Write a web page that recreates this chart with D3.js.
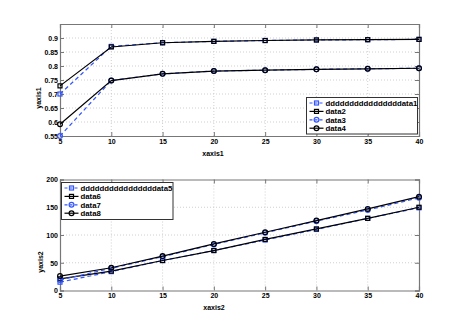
<!DOCTYPE html>
<html>
<head>
<meta charset="utf-8">
<script src="https://cdn.jsdelivr.net/npm/d3@7"></script>
<style>
  body { margin: 0; background: #fff; }
  svg text { font-family: "Liberation Sans", Arial, sans-serif; font-size: 7px; font-weight: bold; fill: #000; }
  svg .legenda text { font-size: 7.8px; }
</style>
</head>
<body>
<div id="chart"></div>
<script>
const xValues = [5, 10, 15, 20, 25, 30, 35, 40];

// painel de cima
const data1 = [0.70, 0.870, 0.883, 0.888, 0.891, 0.893, 0.894, 0.895];
const data2 = [0.729, 0.868, 0.883, 0.888, 0.891, 0.893, 0.894, 0.895];
const data3 = [0.55, 0.748, 0.772, 0.782, 0.785, 0.788, 0.790, 0.792];
const data4 = [0.592, 0.748, 0.772, 0.782, 0.785, 0.788, 0.790, 0.792];

// painel de baixo
const data5 = [15, 34, 54, 72, 91, 110, 130, 149];
const data6 = [21, 35, 54, 72, 92, 111, 130, 150];
const data7 = [19, 40, 61, 83, 104, 125, 145, 167];
const data8 = [26, 41, 62, 84, 105, 126, 147, 169];

const xTicks = [5, 10, 15, 20, 25, 30, 35, 40];
const yTicks1 = [0.55, 0.6, 0.65, 0.7, 0.75, 0.8, 0.85, 0.9];
const yTicks2 = [0, 50, 100, 150, 200];

const longName = "ddddddddddddddd";
const series1 = [
  { name: longName + "data1", values: data1, color: "#3355ff", dash: "4,3", marker: "square" },
  { name: "data2", values: data2, color: "#000", dash: null, marker: "square" },
  { name: "data3", values: data3, color: "#3355ff", dash: "4,3", marker: "circle" },
  { name: "data4", values: data4, color: "#000", dash: null, marker: "circle" },
];
const series2 = [
  { name: longName + "data5", values: data5, color: "#3355ff", dash: "4,3", marker: "square" },
  { name: "data6", values: data6, color: "#000", dash: null, marker: "square" },
  { name: "data7", values: data7, color: "#3355ff", dash: "4,3", marker: "circle" },
  { name: "data8", values: data8, color: "#000", dash: null, marker: "circle" },
];

const width = 463;
const height = 327;

const svg = d3
  .select("#chart")
  .append("svg")
  .attr("width", width)
  .attr("height", height);

const drawMarker = (g, type, x, y, color) => {
  if (type === "square") {
    g.append("rect")
      .attr("x", x - 2)
      .attr("y", y - 2)
      .attr("width", 4)
      .attr("height", 4)
      .attr("fill", "none")
      .attr("stroke", color)
      .attr("stroke-width", 1.2);
  } else {
    g.append("circle")
      .attr("cx", x)
      .attr("cy", y)
      .attr("r", 2.4)
      .attr("fill", "none")
      .attr("stroke", color)
      .attr("stroke-width", 1.2);
  }
};

const desenharPainel = (cfg) => {
  const { left, right, top, bottom, yDomain, yTicks, series, xLabel, yLabel } = cfg;

  const x = d3.scaleLinear().domain([5, 40]).range([left, right]);
  const y = d3.scaleLinear().domain(yDomain).range([bottom, top]);

  const g = svg.append("g");

  // grade pontilhada
  g.append("g")
    .selectAll("line")
    .data(xTicks.slice(1, -1))
    .enter()
    .append("line")
    .attr("x1", (d) => x(d))
    .attr("x2", (d) => x(d))
    .attr("y1", top)
    .attr("y2", bottom)
    .attr("stroke", "#c4c4c4")
    .attr("stroke-width", 0.8)
    .attr("stroke-dasharray", "1,2");

  g.append("g")
    .selectAll("line")
    .data(yTicks.filter((d) => y(d) > top + 0.5 && y(d) < bottom - 0.5))
    .enter()
    .append("line")
    .attr("x1", left)
    .attr("x2", right)
    .attr("y1", (d) => y(d))
    .attr("y2", (d) => y(d))
    .attr("stroke", "#c4c4c4")
    .attr("stroke-width", 0.8)
    .attr("stroke-dasharray", "1,2");

  // eixos com ticks para dentro
  const axisColor = "#777";
  const xb = g.append("g")
    .attr("transform", `translate(0,${bottom})`)
    .call(d3.axisBottom(x).tickValues(xTicks).tickSize(-4).tickPadding(3).tickFormat(d3.format("d")));
  const xt = g.append("g")
    .attr("transform", `translate(0,${top})`)
    .call(d3.axisTop(x).tickValues(xTicks).tickSize(-4).tickFormat(""));
  const yl = g.append("g")
    .attr("transform", `translate(${left},0)`)
    .call(d3.axisLeft(y).tickValues(yTicks).tickSize(-4).tickPadding(2).tickFormat((d) => d3.format("~g")(d)));
  const yr = g.append("g")
    .attr("transform", `translate(${right},0)`)
    .call(d3.axisRight(y).tickValues(yTicks).tickSize(-4).tickFormat(""));

  [xb, xt, yl, yr].forEach((a) => {
    a.select(".domain").attr("stroke", axisColor).attr("stroke-width", 1.2);
    a.selectAll(".tick line").attr("stroke", axisColor);
    a.selectAll("text").attr("font-size", null).attr("font-family", null);
  });
  yl.selectAll("text").attr("dy", "0.35em");

  // séries
  const line = d3
    .line()
    .x((d, i) => x(xValues[i]))
    .y((d) => y(d));

  series.forEach((s) => {
    g.append("path")
      .datum(s.values)
      .attr("d", line)
      .attr("fill", "none")
      .attr("stroke", s.color)
      .attr("stroke-width", 1.2)
      .attr("stroke-dasharray", s.dash);
    s.values.forEach((v, i) => drawMarker(g, s.marker, x(xValues[i]), y(v), s.color));
  });

  // rótulos dos eixos
  g.append("text")
    .attr("x", xLabel.x)
    .attr("y", xLabel.y)
    .attr("text-anchor", "middle")
    .text(xLabel.text);

  g.append("text")
    .attr("transform", `translate(${yLabel.x},${yLabel.y}) rotate(-90)`)
    .attr("text-anchor", "middle")
    .text(yLabel.text);

  // legenda
  const lg = cfg.legend;
  const leg = g.append("g").attr("class", "legenda");
  leg.append("rect")
    .attr("x", lg.x)
    .attr("y", lg.y)
    .attr("width", lg.w)
    .attr("height", lg.h)
    .attr("fill", "#fff")
    .attr("stroke", "#333")
    .attr("stroke-width", 1);

  series.forEach((s, i) => {
    const cy = lg.y + 5.5 + i * 8.4;
    leg.append("line")
      .attr("x1", lg.x + 3)
      .attr("x2", lg.x + 17)
      .attr("y1", cy)
      .attr("y2", cy)
      .attr("stroke", s.color)
      .attr("stroke-width", 1.2)
      .attr("stroke-dasharray", s.dash ? "3,2" : null);
    drawMarker(leg, s.marker, lg.x + 10, cy, s.color);
    leg.append("text")
      .attr("x", lg.x + 19)
      .attr("y", cy)
      .attr("dy", "0.35em")
      .text(s.name);
  });
};

desenharPainel({
  left: 60, right: 419, top: 24, bottom: 136,
  yDomain: [0.55, 0.95],
  yTicks: yTicks1,
  series: series1,
  xLabel: { x: 213, y: 156, text: "xaxis1" },
  yLabel: { x: 41, y: 98, text: "yaxis1" },
  legend: { x: 306.5, y: 97.5, w: 111, h: 36.5 },
});

desenharPainel({
  left: 60, right: 419, top: 179.5, bottom: 290.5,
  yDomain: [0, 200],
  yTicks: yTicks2,
  series: series2,
  xLabel: { x: 214, y: 310, text: "xaxis2" },
  yLabel: { x: 43, y: 262, text: "yaxis2" },
  legend: { x: 61.5, y: 182.5, w: 111.5, h: 37 },
});
</script>
</body>
</html>
